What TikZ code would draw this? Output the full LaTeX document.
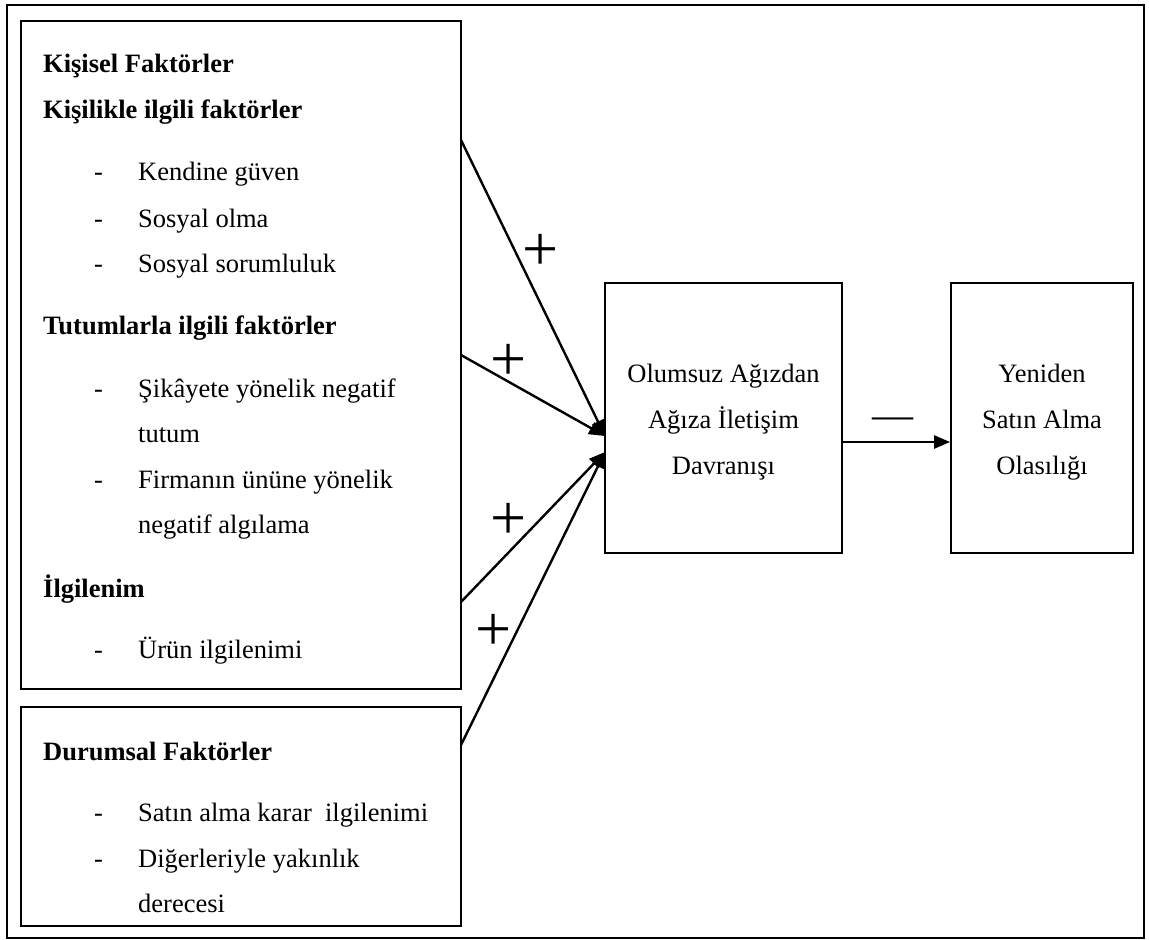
\documentclass[tikz,border=0pt]{standalone}
\usepackage{fontspec}
\setmainfont{Liberation Serif}
\usetikzlibrary{arrows.meta}
\begin{document}
\begin{tikzpicture}[x=1pt,y=-1pt,
  frame/.style={draw, line width=1.8pt, inner sep=0pt},
  txt/.style={inner sep=0pt, anchor=base west, font=\fontsize{26.5}{46}\selectfont},
  head/.style={txt, font=\fontsize{26.5}{46}\selectfont\bfseries},
  mid/.style={inner sep=0pt, anchor=base, font=\fontsize{26.5}{46}\selectfont},
  link/.style={line width=2.4pt, -{Triangle[length=16pt,width=13pt]}},
  plus/.style={inner sep=0pt, font=\fontsize{64}{64}\selectfont},
  minus/.style={inner sep=0pt, font=\fontsize{41}{41}\selectfont}]
\useasboundingbox (0,0) rectangle (1149,940);
\fill[white] (0,0) rectangle (1149,940);
% outer frame
\draw[line width=2.4pt] (7,5) rectangle (1144,938);

% boxes
\node[frame, minimum width=440pt, minimum height=668pt] (kf) at (241,355) {};
\node[frame, minimum width=440pt, minimum height=219pt] (df) at (241,816.5) {};
\node[frame, minimum width=237pt, minimum height=270pt] (om) at (723.5,418) {};
\node[frame, minimum width=182pt, minimum height=270pt] (ya) at (1042,418) {};

% personal factors
\node[head] (h1) at (43,72) {Kişisel Faktörler};
\node[head] (h2) at (43,118) {Kişilikle ilgili faktörler};
\node[txt] (d1) at (94,180) {-};
\node[txt] (i1) at (138,180) {Kendine güven};
\node[txt] (d2) at (94,227) {-};
\node[txt] (i2) at (138,227) {Sosyal olma};
\node[txt] (d3) at (94,272) {-};
\node[txt] (i3) at (138,272) {Sosyal sorumluluk};
\node[head] (h3) at (43,334) {Tutumlarla ilgili faktörler};
\node[txt] (d4) at (94,397) {-};
\node[txt] (i4) at (138,397) {Şikâyete yönelik negatif};
\node[txt] (i4b) at (138,442) {tutum};
\node[txt] (d5) at (94,488) {-};
\node[txt] (i5) at (138,488) {Firmanın ününe yönelik};
\node[txt] (i5b) at (138,533) {negatif algılama};
\node[head] (h4) at (43,597) {İlgilenim};
\node[txt] (d6) at (94,658) {-};
\node[txt] (i6) at (138,658) {Ürün ilgilenimi};

% situational factors
\node[head] (h5) at (43,760) {Durumsal Faktörler};
\node[txt] (d7) at (94,821) {-};
\node[txt] (i7) at (138,821) {Satın alma karar \ ilgilenimi};
\node[txt] (d8) at (94,867) {-};
\node[txt] (i8) at (138,867) {Diğerleriyle yakınlık};
\node[txt] (i8b) at (138,912) {derecesi};

% middle and right boxes
\node[mid] (m1) at (723.5,382) {Olumsuz Ağızdan};
\node[mid] (m2) at (723.5,428) {Ağıza İletişim};
\node[mid] (m3) at (723.5,474) {Davranışı};
\node[mid] (r1) at (1042,382) {Yeniden};
\node[mid] (r2) at (1042,428) {Satın Alma};
\node[mid] (r3) at (1042,474) {Olasılığı};

% connectors
\coordinate (s1) at (461,140);
\coordinate (s2) at (461,355);
\coordinate (s3) at (461,602);
\coordinate (s4) at (461,745);
\coordinate (t1) at (605,436);
\coordinate (t2) at (605,452);
\coordinate (a1) at (842,442);
\draw[link] (s1) -- (t1);
\draw[link] (s2) -- (t1);
\draw[link] (s3) -- (t2);
\draw[link] (s4) -- (t2);
\draw[link] (a1) -- (ya.west |- a1);

% signs
\node[plus] (p1) at (541,252) {+};
\node[plus] (p2) at (509,362) {+};
\node[plus] (p3) at (509,521) {+};
\node[plus] (p4) at (494,632) {+};
\node[minus] (n1) at (893,423) {—};
\end{tikzpicture}
\end{document}
